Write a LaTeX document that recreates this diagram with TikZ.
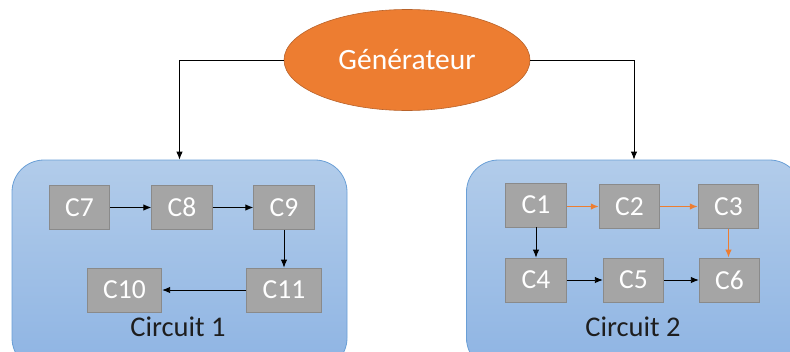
\documentclass[tikz,border=0pt]{standalone}
\usepackage{fontspec}
\setmainfont{Carlito}
\usepackage{tikz}
\usetikzlibrary{shapes.geometric,arrows.meta}

\definecolor{genorange}{HTML}{ED7D31}
\definecolor{genborder}{HTML}{B8622A}
\definecolor{boxgray}{HTML}{A5A5A5}
\definecolor{boxborder}{HTML}{8A8A8A}
\definecolor{cirtop}{HTML}{B2CCEA}
\definecolor{cirbot}{HTML}{8EB4E3}
\definecolor{cirborder}{HTML}{6A9FD6}
\definecolor{labelgray}{HTML}{1E1E1E}

\tikzset{
  circuitbox/.style={rectangle,rounded corners=32pt,draw=cirborder,line width=0.8pt,
    top color=cirtop,bottom color=cirbot,minimum width=335pt,minimum height=210pt,inner sep=0pt},
  comp/.style={rectangle,draw=boxborder,line width=0.8pt,fill=boxgray,text=white,
    font=\fontsize{27.5}{30}\selectfont,inner xsep=16pt,inner ysep=0pt,
    minimum width=59pt,minimum height=44pt},
  circlabel/.style={text=labelgray,font=\fontsize{28.5}{30}\selectfont},
  link/.style={->,line width=0.9pt},
  hot/.style={->,line width=1.4pt,draw=genorange}
}

\begin{document}
\begin{tikzpicture}[x=1pt,y=-1pt,>={Latex[length=8pt,width=6.5pt]}]
      \useasboundingbox (0,0) rectangle (790,351);
      % the two circuits
      \node[circuitbox] (circ1) at (179.5,265) {};
      \node[circuitbox] (circ2) at (634,265) {};
      \node[circlabel] (lab1) at (178,327) {Circuit 1};
      \node[circlabel] (lab2) at (633,327) {Circuit 2};
      % generator
      \node[ellipse,draw=genborder,line width=0.6pt,fill=genorange,text=white,
        minimum width=246pt,minimum height=101pt,inner sep=0pt,
        font=\fontsize{29.5}{30}\selectfont] (gen) at (407,60) {Générateur};
      \draw[link] (gen.west) -| (circ1.north);
      \draw[link] (gen.east) -| (circ2.north);
      % circuit 1
      \node[comp] (c7) at (79.5,207.5) {C7};
      \node[comp] (c8) at (182,207.5) {C8};
      \node[comp] (c9) at (284,207.5) {C9};
      \node[comp] (c11) at (284,290) {C11};
      \node[comp] (c10) at (124.5,290) {C10};
      \draw[link] (c7) -- (c8);
      \draw[link] (c8) -- (c9);
      \draw[link] (c9) -- (c11);
      \draw[link] (c11) -- (c10);
      % circuit 2
      \node[comp] (c1) at (536,205) {C1};
      \node[comp] (c2) at (629.5,206.5) {C2};
      \node[comp] (c3) at (728.5,206.5) {C3};
      \node[comp] (c4) at (536,280) {C4};
      \node[comp] (c5) at (633.5,280) {C5};
      \node[comp] (c6) at (729.5,280) {C6};
      \draw[hot] (c1.east |- c2) -- (c2);
      \draw[hot] (c2) -- (c3);
      \draw[hot] (c3.south) -- (c3.south |- c6.north);
      \draw[link] (c1) -- (c4);
      \draw[link] (c4) -- (c5);
      \draw[link] (c5) -- (c6);
\end{tikzpicture}
\end{document}
